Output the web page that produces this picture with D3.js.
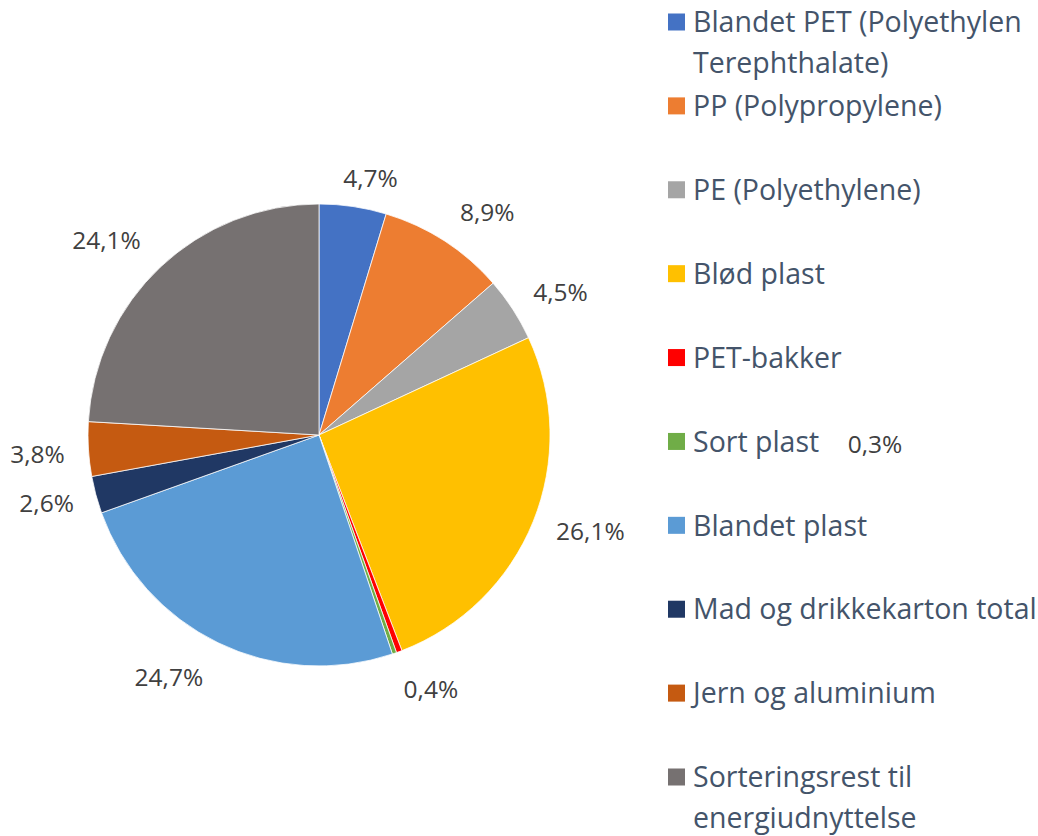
<!DOCTYPE html>
<html><head><meta charset="utf-8">
<script src="https://cdn.jsdelivr.net/npm/d3@7"></script>
<style>body{margin:0;background:#fff}</style>
</head><body>
<script>
const categories = ["Blandet PET (Polyethylen Terephthalate)","PP (Polypropylene)","PE (Polyethylene)","Blød plast","PET-bakker","Sort plast","Blandet plast","Mad og drikkekarton total","Jern og aluminium","Sorteringsrest til energiudnyttelse"];
const legendLines = [["Blandet PET (Polyethylen","Terephthalate)"],["PP (Polypropylene)"],["PE (Polyethylene)"],["Blød plast"],["PET-bakker"],["Sort plast"],["Blandet plast"],["Mad og drikkekarton total"],["Jern og aluminium"],["Sorteringsrest til","energiudnyttelse"]];
const values = [4.7, 8.9, 4.5, 26.1, 0.4, 0.3, 24.7, 2.6, 3.8, 24.1];
const labels = ["4,7%","8,9%","4,5%","26,1%","0,4%","0,3%","24,7%","2,6%","3,8%","24,1%"];
const colors = ["#4472C4","#ED7D31","#A5A5A5","#FFC000","#FF0000","#70AD47","#5B9BD5","#203864","#C55A11","#767171"];

const W=1038,H=836, cx=319, cy=435, R=231, labelR=282;
// small label nudges (Excel placement), px
const nudge = [[10,22],[15,14],[5,11],[10,-10],[14,-10],null,[-27,-12],[0,-5],[0,2],[-19,10]];
const FONT="'Open Sans', Lato, sans-serif";

const svg=d3.select("body").append("svg").attr("width",W).attr("height",H);
const pie=d3.pie().sort(null).value(d=>d);
const arcs=pie(values);
const arc=d3.arc().innerRadius(0).outerRadius(R);
const g=svg.append("g").attr("transform",`translate(${cx},${cy})`);
g.selectAll("path").data(arcs).join("path")
  .attr("d",arc).attr("fill",(d,i)=>colors[i])
  .attr("stroke","#fff").attr("stroke-width",0.75);

g.selectAll("text.lab").data(arcs).join("text").attr("class","lab")
  .attr("transform",(d,i)=>{
    if(!nudge[i]) return `translate(${875-cx},${444-cy})`;
    const a=(d.startAngle+d.endAngle)/2;
    const x=labelR*Math.sin(a)+nudge[i][0], y=-labelR*Math.cos(a)+nudge[i][1];
    return `translate(${x},${y})`;
  })
  .attr("text-anchor","middle").attr("dy","0.36em")
  .attr("font-family",FONT).attr("font-size",24.5)
  .attr("fill","#404040").text((d,i)=>labels[i]);

const leg=svg.append("g");
const rowY=d3.scalePoint().domain(d3.range(categories.length)).range([22,777]);
categories.forEach((c,i)=>{
  const y=rowY(i);
  leg.append("rect").attr("x",668).attr("y",y-8.5).attr("width",17).attr("height",17).attr("fill",colors[i]);
  const t=leg.append("text").attr("x",693).attr("y",y)
    .attr("font-family",FONT).attr("font-size",28.5).attr("fill","#44546A");
  legendLines[i].forEach((ln,j)=>{
    t.append("tspan").attr("x",693).attr("dy",j===0?"0.36em":"41").text(ln);
  });
});
</script>
</body></html>
